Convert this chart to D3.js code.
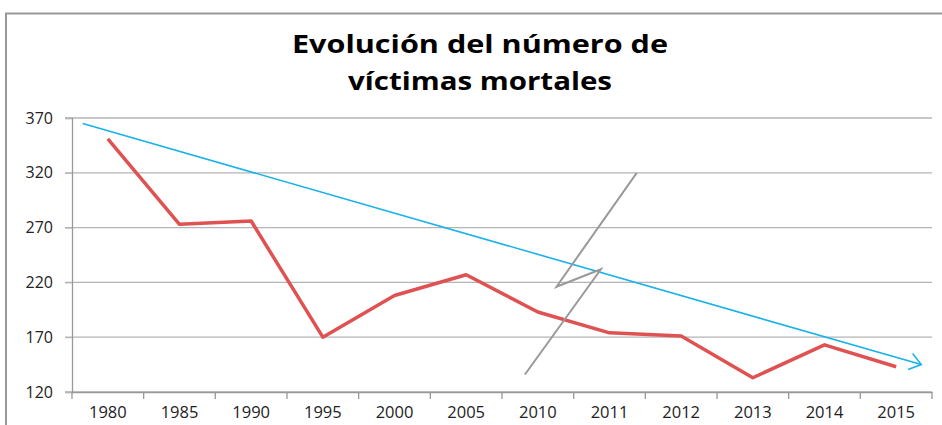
<!DOCTYPE html>
<html>
<head>
  <meta charset="utf-8">
  <style>
    body { margin: 0; background: #fff; font-family: "Open Sans", sans-serif; }
  </style>
  <script src="https://d3js.org/d3.v7.min.js"></script>
</head>
<body>
  <svg id="chart" width="942" height="425"></svg>
  <script>
    // data
    const years = ["1980", "1985", "1990", "1995", "2000", "2005", "2010", "2011", "2012", "2013", "2014", "2015"];
    const victims = [351, 273, 276, 170, 208, 227, 193, 174, 171, 133, 163, 143];
    const yTicks = [120, 170, 220, 270, 320, 370];
    // hand-drawn trend arrow, in (category index, value)
    const trendIdx = [-0.35, 11.35];
    const trendVal = [365, 145];
    // gray zigzag annotation, in (category index, value)
    const zigIdx = [5.82, 6.88, 6.26, 7.38];
    const zigVal = [136, 232, 216, 320];

    const svg = d3.select("#chart");
    const W = 942, H = 425;

    // frame (only top and left edges visible)
    svg.append("path")
      .attr("d", "M6," + H + "V13.5H" + W)
      .attr("fill", "none")
      .attr("stroke", "#999")
      .attr("stroke-width", 2);

    // title (stretched wide like the original)
    const titleLines = [
      { text: "Evolución del número de", y: 53, len: 376 },
      { text: "víctimas mortales", y: 90, len: 264 }
    ];
    svg.append("g")
      .selectAll("text")
      .data(titleLines)
      .join("text")
      .attr("x", 480)
      .attr("y", d => d.y)
      .attr("text-anchor", "middle")
      .attr("textLength", d => d.len)
      .attr("lengthAdjust", "spacingAndGlyphs")
      .style("font-family", "'Open Sans', sans-serif")
      .style("font-weight", "bold")
      .style("font-size", "25px")
      .attr("fill", "#000")
      .text(d => d.text);

    const x = d3.scaleBand().domain(years).range([72, 932]);
    const y = d3.scaleLinear().domain([120, 370]).range([392, 118]);
    const xi = i => x(years[0]) + x.bandwidth() / 2 + i * x.step();

    // gridlines
    svg.append("g")
      .selectAll("line")
      .data(yTicks)
      .join("line")
      .attr("x1", 65)
      .attr("x2", 932)
      .attr("y1", d => y(d))
      .attr("y2", d => y(d))
      .attr("stroke", "#b4b4b4")
      .attr("stroke-width", 1.3);

    // y axis
    const yAxis = svg.append("g")
      .attr("transform", "translate(72,0)")
      .call(d3.axisLeft(y).tickValues(yTicks).tickSize(7).tickPadding(12));
    yAxis.select(".domain").attr("stroke", "#999").attr("stroke-width", 1.3);
    yAxis.selectAll(".tick line").attr("stroke", "#b4b4b4");
    yAxis.selectAll("text")
      .style("font-family", "'Open Sans', sans-serif")
      .style("font-size", "16px")
      .attr("fill", "#222");

    // x axis
    const xAxis = svg.append("g")
      .attr("transform", "translate(0,392)")
      .call(d3.axisBottom(x).tickSize(0).tickPadding(14));
    xAxis.select(".domain").attr("stroke", "#999").attr("stroke-width", 1.3);
    xAxis.selectAll("text")
      .style("font-family", "'Open Sans', sans-serif")
      .style("font-size", "16.5px")
      .attr("fill", "#222");
    svg.append("g")
      .selectAll("line")
      .data(d3.range(years.length + 1))
      .join("line")
      .attr("x1", i => 72 + i * x.step())
      .attr("x2", i => 72 + i * x.step())
      .attr("y1", 392)
      .attr("y2", 399)
      .attr("stroke", "#999")
      .attr("stroke-width", 1.3);

    // red series
    const line = d3.line()
      .x((d, i) => x(years[i]) + x.bandwidth() / 2)
      .y(d => y(d));
    svg.append("path")
      .attr("d", line(victims))
      .attr("fill", "none")
      .attr("stroke", "#e05252")
      .attr("stroke-width", 3.5)
      .attr("stroke-linejoin", "round");

    // trend arrow
    const tx0 = xi(trendIdx[0]), ty0 = y(trendVal[0]);
    const tx1 = xi(trendIdx[1]), ty1 = y(trendVal[1]);
    svg.append("line")
      .attr("x1", tx0).attr("y1", ty0)
      .attr("x2", tx1).attr("y2", ty1)
      .attr("stroke", "#19b2ea")
      .attr("stroke-width", 1.6);
    const ang = Math.atan2(ty1 - ty0, tx1 - tx0);
    const head = [ang + Math.PI * 0.8, ang - Math.PI * 0.8].map(a => [tx1 + 14 * Math.cos(a), ty1 + 14 * Math.sin(a)]);
    svg.append("path")
      .attr("d", "M" + head[0] + "L" + tx1 + "," + ty1 + "L" + head[1])
      .attr("fill", "none")
      .attr("stroke", "#19b2ea")
      .attr("stroke-width", 1.6);

    // gray zigzag
    svg.append("path")
      .attr("d", d3.line()(zigIdx.map((d, i) => [xi(d), y(zigVal[i])])))
      .attr("fill", "none")
      .attr("stroke", "#999")
      .attr("stroke-width", 2);
  </script>
</body>
</html>
